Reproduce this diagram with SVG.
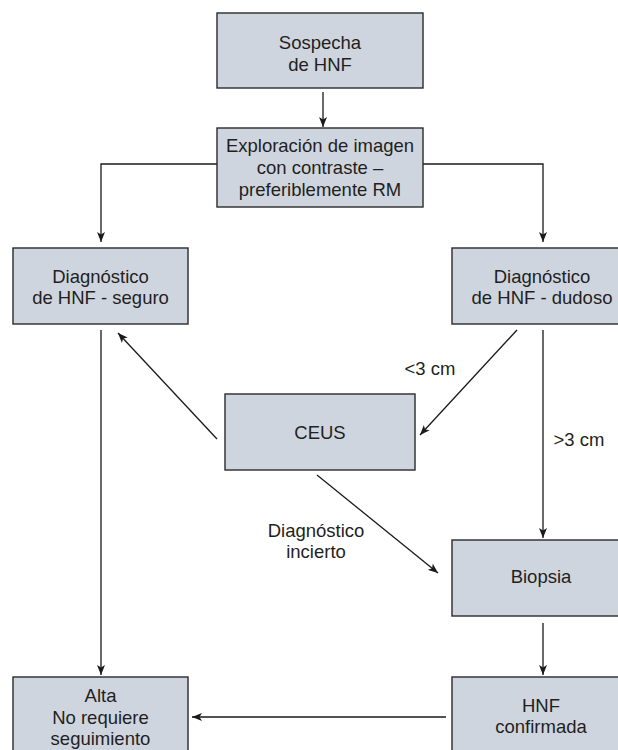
<svg xmlns="http://www.w3.org/2000/svg" width="618" height="750" viewBox="0 0 618 750">
<defs>
<marker id="ah" viewBox="0 0 10 8" refX="10" refY="4" markerWidth="10" markerHeight="8" markerUnits="userSpaceOnUse" orient="auto">
<path d="M0,0 L10,4 L0,8 L2.5,4 Z" fill="#1a1a1a"/>
</marker>
<style>
.box{fill:#cfd5df;stroke:#2a2a2a;stroke-width:1.4}
.t{font-family:"Liberation Sans",Arial,sans-serif;font-size:18.5px;fill:#231f20;text-anchor:middle}
.c{fill:none;stroke:#1a1a1a;stroke-width:1.3}
.ca{fill:none;stroke:#1a1a1a;stroke-width:1.3;marker-end:url(#ah)}
</style>
</defs>
<rect width="618" height="750" fill="#ffffff"/>
<g id="connectors">
<line class="ca" x1="323" y1="92" x2="323" y2="127"/>
<polyline class="ca" points="217,164 101,164 101,242"/>
<polyline class="ca" points="423,164 543,164 543,242"/>
<line class="ca" x1="217" y1="439" x2="118" y2="333"/>
<line class="ca" x1="517" y1="330" x2="420" y2="435"/>
<line class="ca" x1="543" y1="330" x2="543" y2="538"/>
<line class="ca" x1="317" y1="475" x2="438" y2="573"/>
<line class="ca" x1="101" y1="330" x2="101" y2="675"/>
<line class="ca" x1="543" y1="623" x2="543" y2="675"/>
<line class="ca" x1="446" y1="717" x2="192" y2="717"/>
<text class="t" x="430" y="375">&lt;3 cm</text>
<text class="t" x="579" y="446">&gt;3 cm</text>
<text class="t" x="316" y="537">Diagnóstico</text>
<text class="t" x="316" y="558">incierto</text>
</g>
<g id="n1">
<rect class="box" x="217" y="13" width="206" height="75"/>
<text class="t" x="320" y="49">Sospecha</text>
<text class="t" x="320" y="71">de HNF</text>
</g>
<g id="n2">
<rect class="box" x="217" y="128" width="206" height="79"/>
<text class="t" x="320" y="152">Exploración de imagen</text>
<text class="t" x="320" y="174">con contraste –</text>
<text class="t" x="320" y="196">preferiblemente RM</text>
</g>
<g id="n3">
<rect class="box" x="13" y="248" width="175" height="76"/>
<text class="t" x="100.5" y="283">Diagnóstico</text>
<text class="t" x="100.5" y="304">de HNF - seguro</text>
</g>
<g id="n4">
<rect class="box" x="452" y="248" width="181" height="76"/>
<text class="t" x="542" y="283">Diagnóstico</text>
<text class="t" x="542" y="304">de HNF - dudoso</text>
</g>
<g id="n5">
<rect class="box" x="225" y="394" width="190" height="76"/>
<text class="t" x="320" y="439">CEUS</text>
</g>
<g id="n6">
<rect class="box" x="452" y="540" width="181" height="76"/>
<text class="t" x="541" y="583">Biopsia</text>
</g>
<g id="n7">
<rect class="box" x="13" y="677" width="175" height="90"/>
<text class="t" x="100.5" y="702">Alta</text>
<text class="t" x="100.5" y="724">No requiere</text>
<text class="t" x="100.5" y="745">seguimiento</text>
</g>
<g id="n8">
<rect class="box" x="452" y="677" width="181" height="90"/>
<text class="t" x="541" y="712">HNF</text>
<text class="t" x="541" y="733">confirmada</text>
</g>
</svg>
